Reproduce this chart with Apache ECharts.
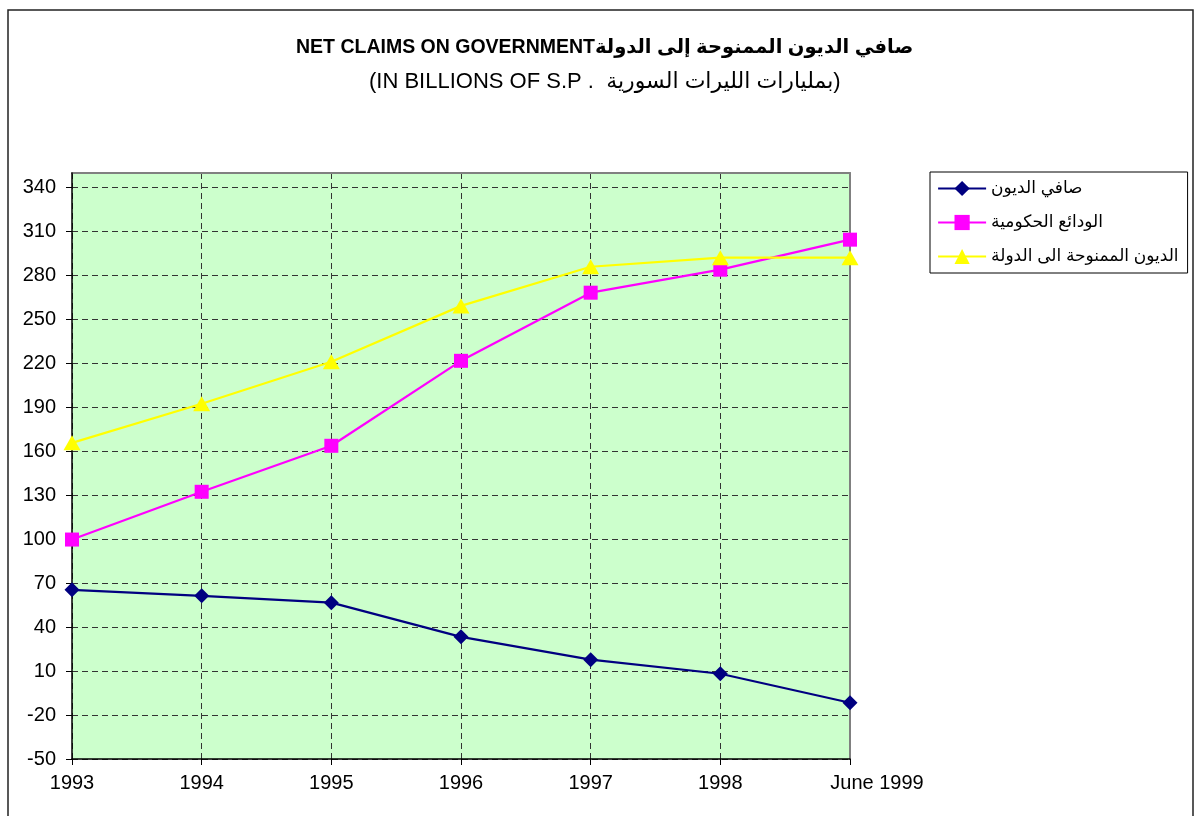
<!DOCTYPE html>
<html>
<head>
<meta charset="utf-8">
<script src="https://cdn.jsdelivr.net/npm/echarts@6/dist/echarts.min.js"></script>
<style>
	html, body { margin: 0; padding: 0; background: #fff; }
	#chart { width: 1196px; height: 816px; }
</style>
</head>
<body>
<div id="chart"></div>
<script type="text/javascript">
	// data (billions of S.P)
	var years = ['1993', '1994', '1995', '1996', '1997', '1998', 'June 1999'];
	var netClaims = [65.5, 61.4, 56.7, 33.4, 17.8, 8.2, -11.6];        // صافي الديون
	var govDeposits = [99.8, 132.4, 163.8, 221.8, 268.3, 284.0, 304.5]; // الودائع الحكومية
	var claimsOnGov = [165.8, 192.5, 221.2, 259.3, 286.0, 292.2, 292.2]; // الديون الممنوحة الى الدولة
	var seriesNames = ['صافي الديون', 'الودائع الحكومية', 'الديون الممنوحة الى الدولة'];

	var fontFamily = '"Liberation Sans", "DejaVu Sans", Arial, sans-serif';
	var gridDash = { color: '#333', width: 1, type: [6, 4] };
	var yMin = -50, yMax = 350, yStep = 30;

	// an axis that only draws something (frame line or dashed grid), no labels
	function plainX(pos, z, line, split) {
		return {
			type: 'category', data: years, position: pos, boundaryGap: false, z: z,
			axisLine: { show: !!line, onZero: false, lineStyle: line || {} },
			axisTick: { show: false }, axisLabel: { show: false },
			splitLine: { show: !!split, interval: 0, lineStyle: split || {} }
		};
	}
	function plainY(pos, z, line, split) {
		return {
			type: 'value', min: yMin, max: yMax, interval: yStep, position: pos, z: z,
			axisLine: { show: !!line, onZero: false, lineStyle: line || {} },
			axisTick: { show: false }, axisLabel: { show: false },
			splitLine: { show: !!split, lineStyle: split || {} }
		};
	}

	var chart = echarts.init(document.getElementById('chart'));
	chart.setOption({
		backgroundColor: '#ffffff',
		textStyle: { fontFamily: fontFamily },
		title: [{
			text: 'NET CLAIMS ON GOVERNMENTصافي الديون الممنوحة إلى الدولة',
			left: 291,
			top: 33,
			textStyle: { fontSize: 19.5, fontWeight: 'bold', color: '#000', fontFamily: fontFamily }
		}, {
			text: '(IN BILLIONS OF S.P .  بمليارات الليرات السورية)',
			left: 364,
			top: 66,
			textStyle: { fontSize: 22, fontWeight: 'normal', color: '#000', fontFamily: fontFamily }
		}],
		graphic: [{
			type: 'rect',
			shape: { x: 8, y: 10, width: 1185, height: 830 },
			style: { fill: 'none', stroke: '#222', lineWidth: 1.5 },
			silent: true
		}],
		legend: {
			orient: 'vertical',
			left: 930,
			top: 172,
			padding: [8, 9, 8, 7],
			itemGap: 17,
			itemWidth: 48,
			itemHeight: 19,
			borderColor: '#000',
			borderWidth: 1,
			lineStyle: { width: 2.2 },
			data: seriesNames,
			textStyle: { fontSize: 17, color: '#000', fontFamily: fontFamily }
		},
		grid: {
			left: 72,
			right: 346,
			top: 173,
			bottom: 57,
			show: true,
			backgroundColor: '#CCFFCC',
			borderWidth: 0
		},
		xAxis: [{
			type: 'category',
			data: years,
			boundaryGap: false,
			z: 6,
			axisLine: { onZero: false, lineStyle: { color: '#000', width: 1.5 } },
			axisTick: { show: true, length: 6, interval: 0, lineStyle: { color: '#000' } },
			splitLine: { show: false },
			axisLabel: {
				interval: 0,
				margin: 14,
				fontSize: 20,
				color: '#000',
				formatter: function (v) {
					return v === 'June 1999' ? '{last|' + v + '}' : v;
				},
				rich: {
					last: { fontSize: 20, color: '#000', padding: [0, 0, 0, 54] }
				}
			}
		},
			plainX('top', 5, { color: '#808080', width: 2 }, null),
			plainX('bottom', 1, null, gridDash)
		],
		yAxis: [{
			type: 'value',
			min: yMin,
			max: yMax,
			interval: yStep,
			z: 6,
			axisLine: { show: true, onZero: false, lineStyle: { color: '#000', width: 1.5 } },
			axisTick: { show: true, length: 6, lineStyle: { color: '#000' } },
			splitLine: { show: false },
			axisLabel: { margin: 16, fontSize: 20, color: '#000', showMaxLabel: false }
		},
			plainY('right', 5, { color: '#808080', width: 2 }, null),
			plainY('left', 1, null, gridDash)
		],
		series: [{
			name: seriesNames[0],
			type: 'line',
			data: netClaims,
			symbol: 'diamond',
			symbolSize: 15,
			color: '#000080',
			lineStyle: { width: 2.2, color: '#000080' },
			itemStyle: { color: '#000080' },
			z: 10
		}, {
			name: seriesNames[1],
			type: 'line',
			data: govDeposits,
			symbol: 'rect',
			symbolSize: 14,
			color: '#FF00FF',
			lineStyle: { width: 2.2, color: '#FF00FF' },
			itemStyle: { color: '#FF00FF' },
			z: 10
		}, {
			name: seriesNames[2],
			type: 'line',
			data: claimsOnGov,
			symbol: 'triangle',
			symbolSize: [17, 15],
			color: '#FFFF00',
			lineStyle: { width: 2.2, color: '#FFFF00' },
			itemStyle: { color: '#FFFF00' },
			z: 10
		}]
	});
</script>
</body>
</html>
